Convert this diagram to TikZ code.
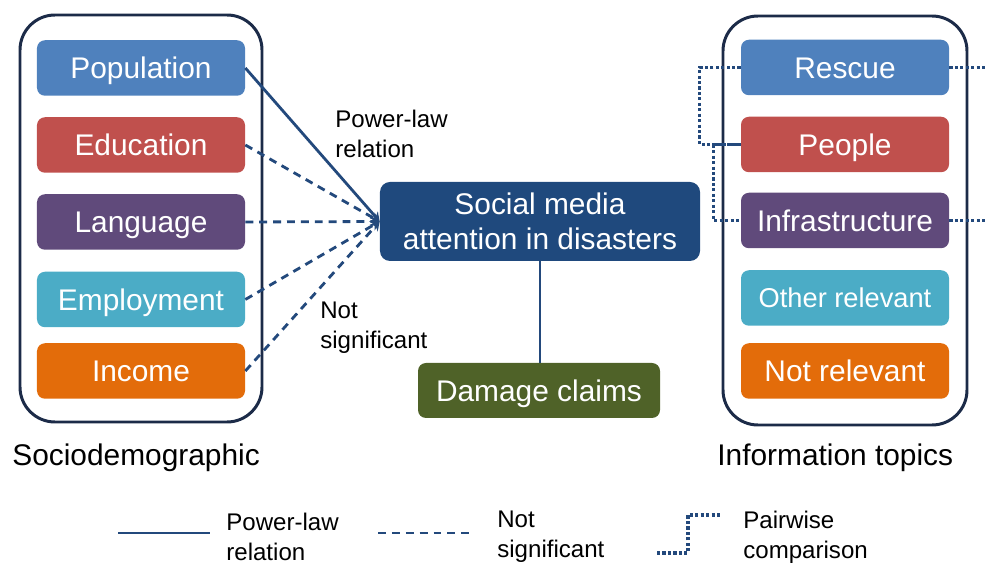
\documentclass[tikz,border=0pt]{standalone}
\usepackage{fontspec}
\setmainfont{Liberation Sans}
\usetikzlibrary{arrows.meta,positioning}

\definecolor{cblue}{HTML}{4F81BD}
\definecolor{cred}{HTML}{C0504D}
\definecolor{cpurple}{HTML}{604A7B}
\definecolor{ccyan}{HTML}{4BACC6}
\definecolor{corange}{HTML}{E36C0A}
\definecolor{cnavy}{HTML}{1F497D}
\definecolor{colive}{HTML}{4F6228}
\definecolor{framecol}{HTML}{1C2B48}
\definecolor{linecol}{HTML}{23497C}

\tikzset{
 box/.style={rounded corners=1.6mm,inner sep=0pt,text=white,font=\fontsize{17}{20}\selectfont},
 topic/.style={box,minimum width=41.6mm,minimum height=11.1mm,text height=12pt,text depth=0pt},
 group/.style={draw=framecol,line width=1.7pt,rounded corners=7mm},
 rel/.style={draw=linecol,line width=1.6pt},
 powerlaw/.style={rel,-{Stealth[length=5pt,width=6pt]}},
 notsig/.style={rel,dash pattern=on 4.5pt off 3.4pt,-{Stealth[length=5pt,width=6pt]}},
 pairwise/.style={draw=linecol,line width=1.9pt,dash pattern=on 1.8pt off 1.3pt},
 lbl/.style={inner sep=0pt,align=left,font=\fontsize{13.7}{17}\selectfont},
 caption/.style={inner sep=0pt,font=\fontsize{17}{20}\selectfont}
}

\begin{document}
\begin{tikzpicture}[x=0.2mm,y=-0.2mm]
 \useasboundingbox (0,0) rectangle (985,564);

 % group frames
 \draw[group] (20,15) rectangle (262,422);
 \draw[group] (723,16) rectangle (967,425);

 % sociodemographic factors
 \node[topic,fill=cblue]   (pop)  at (141,68)    {Population};
 \node[topic,fill=cred]    (edu)  at (141,145)   {Education};
 \node[topic,fill=cpurple] (lang) at (141,222)   {Language};
 \node[topic,fill=ccyan]   (empl) at (141,299.5) {Employment};
 \node[topic,fill=corange] (inc)  at (141,371)   {Income};

 % information topics
 \node[topic,fill=cblue]   (rescue) at (845,67.5)  {Rescue};
 \node[topic,fill=cred]    (people) at (845,144.5) {People};
 \node[topic,fill=cpurple] (infra)  at (845,220.5) {Infrastructure};
 \node[topic,fill=ccyan,font=\fontsize{15.5}{18}\selectfont,text height=11pt] (other) at (845,298) {Other relevant};
 \node[topic,fill=corange] (notrel) at (845,371)   {Not relevant};

 % centre
 \node[box,fill=cnavy,rounded corners=2mm,minimum width=64mm,minimum height=15.8mm,
   align=center] (attention) at (540,221.5) {Social media\\attention in disasters};
 \node[topic,fill=colive,minimum width=48.4mm,minimum height=11mm] (damage) at (539,390.5) {Damage claims};

 % relations
 \draw[powerlaw] (pop.east) -- (attention.west);
 \draw[notsig] (edu.east) -- (attention.west);
 \draw[notsig] (lang.east) -- (attention.west);
 \draw[notsig] (empl.east) -- (attention.west);
 \draw[notsig] (inc.east) -- (attention.west);
 \draw[rel] (attention.south) -- (attention.south |- damage.north);

 \node[lbl,anchor=west] (plaw) at (335,134) {Power-law\\relation};
 \node[lbl,anchor=west] (nsig) at (320,328) {Not\\significant};

 % pairwise comparisons
 \draw[pairwise] (rescue.west) -- ++(-41,0) |- (people.west);
 \draw[pairwise] (people.west) -- ++(-27,0) |- (infra.west);
 \coordinate (rescueout) at (985,67.5);
 \coordinate (infraout) at (985,220.5);
 \draw[pairwise] (rescue.east) -- (rescueout);
 \draw[pairwise] (infra.east) -- (infraout);

 \node[caption,anchor=west] (socio) at (12,458) {Sociodemographic};
 \node[caption,anchor=west] (info) at (717,458) {Information topics};

 % legend
 \coordinate (solA) at (118,533);
 \coordinate (solB) at (210,533);
 \draw[rel] (solA) -- (solB);
 \node[lbl,anchor=west] (legsol) at (226,537) {Power-law\\relation};
 \coordinate (dasA) at (378,533);
 \coordinate (dasB) at (470,533);
 \draw[rel,dash pattern=on 4.5pt off 3.4pt] (dasA) -- (dasB);
 \node[lbl,anchor=west] (legdas) at (497,537) {Not\\significant};
 \coordinate (dotA) at (657,553);
 \coordinate (dotB) at (722,515);
 \draw[pairwise] (dotA) -- ++(31,0) |- (dotB);
 \node[lbl,anchor=west] (legdot) at (743,537) {Pairwise\\comparison};
\end{tikzpicture}
\end{document}
